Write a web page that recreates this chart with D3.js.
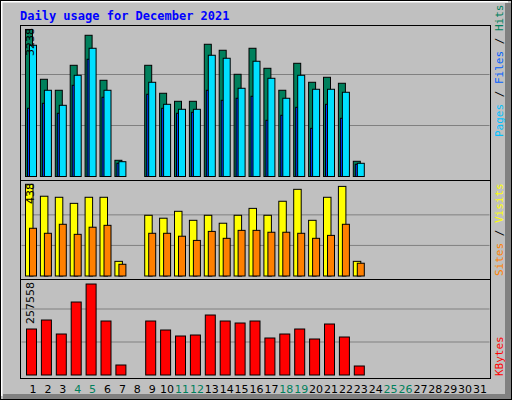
<!DOCTYPE html>
<html><head><meta charset="utf-8">
<script src="https://cdn.jsdelivr.net/npm/d3@7"></script>
<style>body{margin:0;background:#fff}svg{display:block}</style></head>
<body><svg id="c" width="512" height="400"></svg>
<script>
const days=[1,2,3,4,5,6,7,8,9,10,11,12,13,14,15,16,17,18,19,20,21,22,23];
const weekend=[4,5,11,12,18,19,25,26];
const hits=[3238,2141,1899,2449,3110,2119,357,0,2449,1833,1656,1656,2912,2780,2251,2824,2383,1899,2493,2075,2185,2053,335];
const files=[2890,1899,1568,2229,2824,1899,326,0,2075,1590,1480,1480,2670,2604,1943,2538,2163,1723,2229,1921,1921,1855,291];
const pages=[1502,1612,1392,2009,2582,1745,291,0,1811,1502,1392,1414,1899,1678,1723,1767,1238,1348,1524,1061,1590,1282,269];
const visits=[438,381,376,347,376,376,70,0,290,276,309,266,290,252,290,323,290,357,414,266,376,428,70];
const sites=[228,204,247,199,233,242,56,0,204,204,190,170,213,180,218,218,209,209,204,180,194,247,61];
const kbytes=[130190,155670,116040,206610,257558,152840,28300,0,152840,127360,110380,113210,169820,152840,147180,152840,104720,116040,130190,101890,144350,107550,25470];
const maxLabels=["3238","438","257558"];

const svg=d3.select("#c");
// outer frame
svg.append("rect").attr("x",0).attr("y",0).attr("width",512).attr("height",400).attr("fill","#C0C0C0");
svg.append("rect").attr("x",505).attr("y",3).attr("width",7).attr("height",397).attr("fill","#808080");
svg.append("rect").attr("x",3).attr("y",394).attr("width",509).attr("height",6).attr("fill","#808080");
svg.append("path").attr("d","M1.5,396V1.5H508").attr("stroke","#fff").attr("stroke-width",2).attr("fill","none");
svg.append("rect").attr("x",0.5).attr("y",0.5).attr("width",511).attr("height",399).attr("fill","none").attr("stroke","#000");

svg.append("text").attr("x",20).attr("y",20).attr("fill","#0000FF").attr("font-family","DejaVu Sans Mono").attr("font-weight","bold").attr("font-size",12).text("Daily usage for December 2021");

const x=d3.scaleLinear().domain([1,31]).range([25,472]);
const L=20.5,R=490.5;
const panels=[{t:25,b:180,base:176.5,top:23.3},{t:180,b:279,base:276,top:184.3-(276-184.3)*0.0},{t:279,b:378,base:375,top:276.3}];
panels[1].top=276-91.7*1.0; // visits max at top
function frame(p){
  svg.append("rect").attr("x",L).attr("y",p.t+0.5).attr("width",R-L).attr("height",p.b-p.t).attr("fill","#C0C0C0").attr("stroke","#000");
}
panels.forEach(frame);
function grid(p,top){
  [1,2].forEach(k=>{const y=p.base-(p.base-top)*k/3;
    svg.append("line").attr("x1",L+1).attr("x2",R-1).attr("y1",y).attr("y2",y).attr("stroke","#808080");});
}
function bars(vals,y,off,w,color){
  svg.append("g").selectAll("rect").data(days.filter((d,i)=>vals[i]>0)).join("rect")
   .attr("x",d=>x(d)+off).attr("width",w)
   .attr("y",d=>y(vals[d-1])).attr("height",d=>y(0)-y(vals[d-1]))
   .attr("fill",color).attr("stroke","#000").attr("stroke-width",1);
}
// panel 1
const y1=d3.scaleLinear().domain([0,3238/0.961]).range([176.5,23.5]);
grid(panels[0],23.5);
bars(hits,y1,0.5,7,"#00805C");
bars(pages,y1,2.5,2.5,"#0040FF");
bars(files,y1,4.5,7,"#00E0FF");
// panel 2
const y2=d3.scaleLinear().domain([0,438]).range([276,184.3]);
grid(panels[1],184.3);
bars(visits,y2,0.5,7.5,"#FFFF00");
bars(sites,y2,4.5,7,"#FF8000");
// panel 3
const y3=d3.scaleLinear().domain([0,257558/0.919]).range([375,276]);
grid(panels[2],276);
bars(kbytes,y3,1.5,10,"#FF0000");

// left max labels
[[3238,28],[438,183],[257558,282]].forEach(([v,yy],i)=>{
  svg.append("text").attr("transform",`translate(34,${yy}) rotate(-90)`).attr("text-anchor","end")
   .attr("font-family","DejaVu Sans").attr("font-size",11).attr("fill","#000").text(maxLabels[i]);
});
// right labels
function rlabel(yBottom,parts){
  const t=svg.append("text").attr("transform",`translate(503,${yBottom}) rotate(-90)`)
    .attr("font-family","DejaVu Sans Mono").attr("font-size",11);
  parts.forEach(([s,c])=>t.append("tspan").attr("fill",c).text(s));
}
rlabel(137,[["Pages","#00C0FF"],[" / ","#000"],["Files","#0060FF"],[" / ","#000"],["Hits","#00805C"]]);
rlabel(276,[["Sites","#FF8000"],[" / ","#000"],["Visits","#FFFF00"]]);
rlabel(376,[["KBytes","#FF0000"]]);
// day labels
const allDays=d3.range(1,32);
svg.append("g").selectAll("text").data(allDays).join("text")
  .attr("x",d=>x(d)+8).attr("y",393).attr("text-anchor","middle")
  .attr("font-family","DejaVu Sans").attr("font-size",11)
  .attr("fill",d=>weekend.includes(d)?"#00805C":"#000").text(d=>d);
</script></body></html>
